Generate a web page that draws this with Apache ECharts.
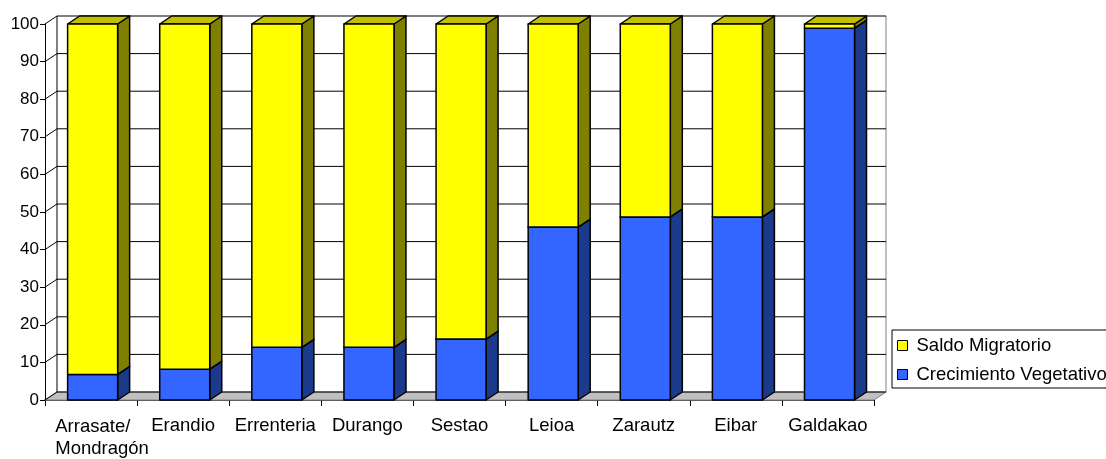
<!DOCTYPE html>
<html>
<head>
<meta charset="utf-8">
<script src="https://cdn.jsdelivr.net/npm/echarts@6/dist/echarts.min.js"></script>
<style>
html,body{margin:0;padding:0;background:#fff;}
#chart{width:1106px;height:459px;}
</style>
</head>
<body>
<div id="chart"></div>
<script>
// ---- data ----
const categories = ['Arrasate/\nMondragón', 'Erandio', 'Errenteria', 'Durango', 'Sestao', 'Leioa', 'Zarautz', 'Eibar', 'Galdakao'];
const crecimientoVegetativo = [6.8, 8.2, 14.0, 14.0, 16.2, 46.0, 48.7, 48.7, 98.9];
const saldoMigratorio = [93.2, 91.8, 86.0, 86.0, 83.8, 54.0, 51.3, 51.3, 1.1];
const yTicks = [0, 10, 20, 30, 40, 50, 60, 70, 80, 90, 100];

// ---- style ----
const FONT = 'Liberation Sans, Arial, sans-serif';
const DX = 12, DY = 8;
const BAR_RATIO = 0.543, BAR_SHIFT = 0.017;
const EDGE = { stroke: '#000', lineWidth: 1.5, lineJoin: 'round' };
const COLORS = {
  blue:   { front: '#3366FF', side: '#1B3A8C', top: '#2A52CC' },
  yellow: { front: '#FFFF00', side: '#808000', top: '#C0C000' }
};

function barRenderer(col) {
  return function (params, api) {
    const i = api.value(0), b = api.value(1), t = api.value(2);
    const bw = api.size([1, 0])[0];
    const c = api.coord([i, 0])[0];
    const yb = api.coord([i, b])[1], yt = api.coord([i, t])[1];
    const w = bw * BAR_RATIO;
    const x0 = c - w / 2 + bw * BAR_SHIFT, x1 = x0 + w;
    return {
      type: 'group',
      children: [
        { type: 'polygon', shape: { points: [[x1, yb], [x1 + DX, yb - DY], [x1 + DX, yt - DY], [x1, yt]] }, style: Object.assign({ fill: col.side }, EDGE) },
        { type: 'polygon', shape: { points: [[x0, yt], [x1, yt], [x1 + DX, yt - DY], [x0 + DX, yt - DY]] }, style: Object.assign({ fill: col.top }, EDGE) },
        { type: 'rect', shape: { x: x0, y: yt, width: w, height: yb - yt }, style: Object.assign({ fill: col.front }, EDGE) }
      ]
    };
  };
}

const chart = echarts.init(document.getElementById('chart'), null, { renderer: 'canvas' });

const blueData = categories.map((c, i) => [i, 0, crecimientoVegetativo[i]]);
const yellowData = categories.map((c, i) => [i, crecimientoVegetativo[i], crecimientoVegetativo[i] + saldoMigratorio[i]]);

chart.setOption({
  animation: false,
  backgroundColor: '#fff',
  textStyle: { fontFamily: FONT },
  grid: { left: 45, right: 232, top: 24, bottom: 55, containLabel: false },
  legend: {
    orient: 'vertical',
    left: 892,
    top: 330,
    padding: [6, 30, 4, 5],
    borderColor: '#000',
    borderWidth: 1,
    itemWidth: 10,
    itemHeight: 10,
    itemGap: 10,
    selectedMode: false,
    textStyle: { fontFamily: FONT, fontSize: 18.5, color: '#000', lineHeight: 18, padding: [0, 0, 0, 4] },
    data: [
      { name: 'Saldo Migratorio', icon: 'rect', itemStyle: { color: '#FFFF00', borderColor: '#000', borderWidth: 1 } },
      { name: 'Crecimiento Vegetativo', icon: 'rect', itemStyle: { color: '#3366FF', borderColor: '#000', borderWidth: 1 } }
    ]
  },
  xAxis: {
    type: 'category',
    data: categories,
    boundaryGap: true,
    axisLine: { show: true, lineStyle: { color: '#000', width: 1.5 } },
    axisTick: { show: true, length: 6, alignWithLabel: false, lineStyle: { color: '#000' } },
    axisLabel: {
      color: '#000', fontFamily: FONT, fontSize: 18.5, lineHeight: 22, margin: 15, interval: 0,
      formatter: function (v) { return v.indexOf('\n') >= 0 ? '{ml|' + v + '}' : v; },
      rich: {
        ml: { align: 'left', color: '#000', fontFamily: FONT, fontSize: 18.5, lineHeight: 22, padding: [2, 0, 0, 22] }
      }
    },
    splitLine: { show: false }
  },
  yAxis: {
    type: 'value',
    min: 0, max: 100, interval: 10,
    axisLine: { show: true, lineStyle: { color: '#000', width: 1 } },
    axisTick: { show: true, length: 5, lineStyle: { color: '#000' } },
    axisLabel: { color: '#000', fontFamily: FONT, fontSize: 17, margin: 6 },
    splitLine: { show: false }
  },
  series: [
    {
      type: 'custom', name: 'floor', silent: true, z: 1,
      data: [[0, 0]],
      renderItem: function (params, api) {
        const cs = params.coordSys;
        const yb = api.coord([0, yTicks[0]])[1];
        const yt = api.coord([0, yTicks[yTicks.length - 1]])[1];
        const x0 = cs.x, x1 = cs.x + cs.width;
        return {
          type: 'group',
          children: [
            { type: 'polygon', shape: { points: [[x0, yb], [x1, yb], [x1 + DX, yb - DY], [x0 + DX, yb - DY]] }, style: { fill: '#C0C0C0', stroke: '#808080', lineWidth: 1 } },
            { type: 'line', shape: { x1: x0 + DX, y1: yt - DY, x2: x0 + DX, y2: yb - DY }, style: { stroke: '#000', lineWidth: 1 } },
            { type: 'line', shape: { x1: x1 + DX, y1: yt - DY, x2: x1 + DX, y2: yb - DY }, style: { stroke: '#808080', lineWidth: 1 } }
          ]
        };
      }
    },
    {
      type: 'custom', name: 'grid', silent: true, z: 1,
      data: yTicks.map(v => [0, v]),
      renderItem: function (params, api) {
        const cs = params.coordSys;
        const y = api.coord([0, api.value(1)])[1];
        const x0 = cs.x, x1 = cs.x + cs.width;
        return {
          type: 'group',
          children: [
            { type: 'line', shape: { x1: x0 + DX, y1: y - DY, x2: x1 + DX, y2: y - DY }, style: { stroke: '#000', lineWidth: 1 } },
            { type: 'line', shape: { x1: x0, y1: y, x2: x0 + DX, y2: y - DY }, style: { stroke: '#000', lineWidth: 1 } }
          ]
        };
      }
    },
    {
      type: 'custom', name: 'Crecimiento Vegetativo', z: 3,
      itemStyle: { color: '#3366FF' },
      encode: { x: 0, y: [1, 2] },
      data: blueData,
      renderItem: barRenderer(COLORS.blue)
    },
    {
      type: 'custom', name: 'Saldo Migratorio', z: 3,
      itemStyle: { color: '#FFFF00' },
      encode: { x: 0, y: [1, 2] },
      data: yellowData,
      renderItem: barRenderer(COLORS.yellow)
    }
  ]
});
</script>
</body>
</html>
